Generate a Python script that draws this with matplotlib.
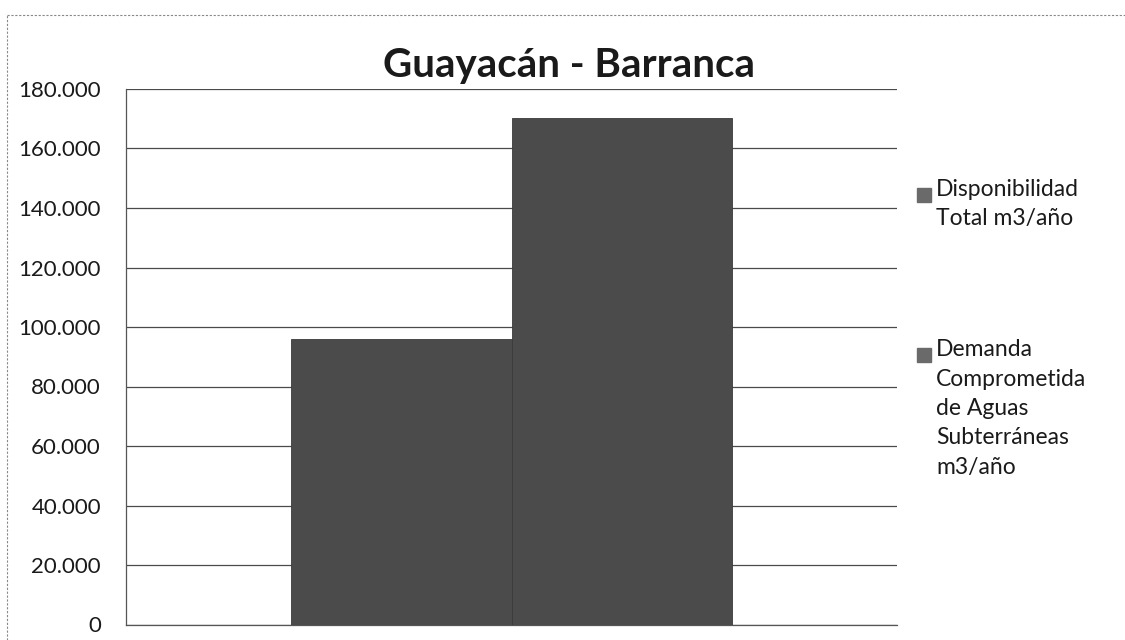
import matplotlib.pyplot as plt
import matplotlib.ticker as mticker
from matplotlib.lines import Line2D
from matplotlib.patches import Rectangle
import numpy as np

plt.rcParams['font.family'] = ['Lato', 'DejaVu Sans']

# data
titulo = 'Guayacán - Barranca'
series = ['Disponibilidad\nTotal m3/año',
          'Demanda\nComprometida\nde Aguas\nSubterráneas\nm3/año']
valores = [96000, 170300]
y_ticks = np.arange(0, 180001, 20000)

W, H = 1125, 640
fig = plt.figure(figsize=(W / 100, H / 100), dpi=100)
ax = fig.add_axes([126 / W, 1 - 624.5 / H, (897 - 126) / W, (624.5 - 89) / H])

bar_w = 1 / 3.5  # excel gap width 150%
offsets = (np.arange(len(valores)) - (len(valores) - 1) / 2) * bar_w
barcolor = '#4b4b4b'
for off, v in zip(offsets, valores):
    ax.bar(off, v, width=bar_w, color=barcolor, edgecolor='#3a3a3a', linewidth=0.6, zorder=3)

ax.set_xlim(-0.5, 0.5)
ax.set_ylim(0, 180000)
ax.set_yticks(y_ticks)
ax.yaxis.set_major_formatter(mticker.FuncFormatter(lambda v, p: f'{int(v):,}'.replace(',', '.')))
ax.set_xticks([])
ax.tick_params(axis='y', length=0, pad=18, labelsize=16, labelcolor='#1a1a1a')
ax.grid(axis='y', color='#4a4a4a', linewidth=0.9, zorder=0)
for s in ['top', 'right']:
    ax.spines[s].set_visible(False)
for s in ['left', 'bottom']:
    ax.spines[s].set_color('#555555')
    ax.spines[s].set_linewidth(0.9)

fig.text(569 / W, 1 - 66 / H, titulo, ha='center', va='center',
         fontsize=29, fontweight='bold', color='#1a1a1a')

# legend drawn by hand so the squares sit by the first line, as in excel
legend_tops = [188, 348]
for lab, top in zip(series, legend_tops):
    fig.patches.append(Rectangle((917 / W, 1 - (top + 14) / H), 14 / W, 14 / H,
                                 transform=fig.transFigure, color='#6a6a6a'))
    fig.text(936 / W, 1 - (top - 9) / H, lab, ha='left', va='top',
             fontsize=16.5, color='#1a1a1a', linespacing=1.5)

# dotted scan border of the chart area
fig.lines.append(Line2D([7 / W, 1], [1 - 15 / H, 1 - 15 / H], transform=fig.transFigure,
                        color='#888888', linewidth=0.8, linestyle=(0, (2, 1.5))))
fig.lines.append(Line2D([7 / W, 7 / W], [0, 1 - 15 / H], transform=fig.transFigure,
                        color='#888888', linewidth=0.8, linestyle=(0, (2, 1.5))))

fig.savefig('out.png', dpi=100)
